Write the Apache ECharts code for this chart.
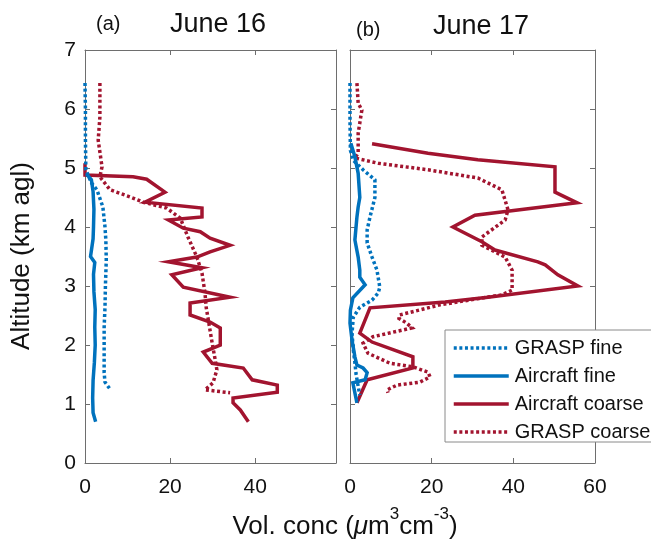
<!DOCTYPE html>
<html>
<head>
<meta charset="utf-8">
<script src="https://cdn.jsdelivr.net/npm/echarts@6/dist/echarts.min.js"></script>
<style>
html,body{margin:0;padding:0;background:#fff;}
#chart{width:651px;height:541px;}
</style>
</head>
<body>
<div id="chart"></div>
<script>
// ---- Data: [volume concentration, altitude km] ----
var seriesNames = ['GRASP fine', 'Aircraft fine', 'Aircraft coarse', 'GRASP coarse'];
var yTicks = [0, 1, 2, 3, 4, 5, 6, 7];
var xTicks = [0, 20, 40, 60];
var panelTitles = ['June 16', 'June 17'];
var panelLetters = ['(a)', '(b)'];

// Panel (a) June 16
var a_graspFine = [[0,6.44],[0.1,6.0],[0.1,5.5],[0.2,4.97],[1.5,4.75],[2.8,4.63],[4.2,4.34],[4.7,4.0],[4.9,3.78],[5.0,3.44],[4.8,3.0],[4.7,2.64],[4.5,2.3],[4.5,2.08],[4.5,1.8],[4.5,1.53],[4.7,1.37],[5.9,1.25]];
var a_aircraftFine = [[0.3,4.9],[1.5,4.8],[1.9,4.6],[2.1,4.3],[2.0,4.0],[1.9,3.8],[1.3,3.5],[2.3,3.4],[2.0,3.2],[2.1,2.9],[2.4,2.6],[2.3,2.3],[2.4,2.0],[2.2,1.7],[1.9,1.4],[1.8,1.1],[1.9,0.85],[2.5,0.7]];
var a_aircraftCoarse = [[0,5.08],[0,4.88],[11.3,4.85],[14.5,4.81],[18.8,4.59],[14.1,4.42],[14.1,4.40],[27.5,4.32],[27.5,4.17],[19.6,4.12],[23.1,3.98],[27.1,3.92],[29.4,3.81],[34.1,3.69],[29.4,3.58],[26.3,3.49],[19.6,3.41],[27.5,3.31],[20.4,3.19],[23.1,2.98],[34.1,2.81],[24.7,2.71],[24.7,2.51],[29.4,2.39],[31.8,2.29],[31.8,2.0],[27.8,1.88],[29.9,1.69],[37.2,1.61],[39.3,1.41],[45.2,1.32],[45.2,1.20],[34.8,1.10],[34.8,1.02],[36.5,0.90],[38.4,0.70]];
var a_graspCoarse = [[3.5,6.44],[3.5,5.86],[3.1,5.47],[4.0,5.02],[3.5,4.85],[5.9,4.63],[10.6,4.51],[13.7,4.42],[19.2,4.32],[22.4,4.15],[24.2,3.83],[26.3,3.49],[27.5,3.22],[28.2,2.88],[28.5,2.63],[29.0,2.42],[29.9,2.03],[30.6,1.75],[31.0,1.58],[30.1,1.36],[28.2,1.24],[34.1,1.19]];

// Panel (b) June 17
var b_graspFine = [[0,6.44],[0,5.8],[0.1,5.3],[0.8,5.13],[3.2,4.97],[6.1,4.8],[6.1,4.5],[4.9,4.17],[4.2,3.95],[4.2,3.73],[5.4,3.49],[6.6,3.27],[7.3,2.98],[6.9,2.88],[5.4,2.76],[2.4,2.64],[0.8,2.47],[0.5,2.2],[0.8,1.92],[1.2,1.7],[1.5,1.5],[2.0,1.3],[2.4,1.15]];
var b_aircraftFine = [[0.2,5.42],[1.2,5.19],[2.0,4.91],[2.4,4.5],[2.0,4.34],[1.7,4.17],[1.2,3.78],[2.0,3.49],[2.4,3.27],[2.4,3.15],[3.7,3.02],[0.7,2.8],[0.1,2.59],[0,2.37],[0.5,2.08],[1.2,1.8],[1.7,1.66],[3.2,1.61],[4.2,1.53],[3.7,1.41],[0.7,1.36],[1.2,1.19],[1.7,1.02]];
var b_aircraftCoarse = [[5.4,5.41],[19.1,5.25],[31.3,5.14],[50.2,5.02],[50.2,4.59],[55.6,4.41],[30.6,4.2],[25.2,4.0],[32.3,3.75],[35.5,3.61],[46,3.41],[47.8,3.36],[50.9,3.19],[55.8,3.0],[33.8,2.81],[23.3,2.73],[4.9,2.63],[2.4,2.2],[5.4,2.05],[15.4,1.8],[15.4,1.61],[4.2,1.41],[1.7,1.02]];
var b_graspCoarse = [[1.7,6.44],[2.0,6.1],[2.9,5.98],[2.0,5.59],[2.0,5.25],[1.2,5.17],[6.9,5.08],[19.1,4.97],[31.3,4.83],[37.2,4.63],[38.7,4.29],[38.0,4.12],[32.3,3.83],[32.3,3.69],[38.0,3.49],[39.7,3.27],[39.7,2.93],[37.2,2.85],[33.5,2.81],[22.0,2.68],[12.2,2.51],[12.0,2.45],[13.9,2.37],[15.2,2.29],[5.6,2.14],[3.2,2.03],[4.4,1.86],[9.8,1.69],[15.4,1.63],[19.1,1.54],[19.6,1.46],[17.1,1.37],[11.5,1.32],[9.1,1.24],[9.3,1.19]];

var BLUE = '#0072BD', RED = '#A2142F';
var FONT = '"Liberation Sans", Arial, sans-serif';
var AXC = '#6e6e6e';
var LW = 3.5;
var DOT = [3, 2.6];

var chart = echarts.init(document.getElementById('chart'), null, {renderer: 'canvas'});

function xAx(grid, max, pos, labels) {
  return {
    type: 'value', gridIndex: grid, position: pos, min: 0, max: max, interval: 20,
    axisLine: {show: true, onZero: false, lineStyle: {color: AXC, width: 1}},
    axisTick: {show: true, inside: true, length: 5, lineStyle: {color: AXC}},
    axisLabel: {show: labels, color: '#111', fontSize: 21, fontFamily: FONT, margin: 14,
      showMaxLabel: max === 60, showMinLabel: true,
      formatter: function (v) { return xTicks.indexOf(v) >= 0 ? String(v) : ''; }},
    splitLine: {show: false}
  };
}
function yAx(grid, pos, labels) {
  return {
    type: 'value', gridIndex: grid, position: pos, min: 0, max: 7, interval: 1,
    axisLine: {show: true, onZero: false, lineStyle: {color: AXC, width: 1}},
    axisTick: {show: true, inside: true, length: 5, lineStyle: {color: AXC}},
    axisLabel: {show: labels, color: '#111', fontSize: 21, fontFamily: FONT, margin: 9,
      formatter: function (v) { return yTicks.indexOf(v) >= 0 ? String(v) : ''; }},
    splitLine: {show: false}
  };
}
function line(name, data, color, dotted, xi, yi) {
  return {
    type: 'line', name: name, data: data, xAxisIndex: xi, yAxisIndex: yi,
    symbol: 'none', showSymbol: false, smooth: false, animation: false,
    lineStyle: {color: color, width: LW, type: dotted ? DOT : 'solid', cap: 'butt', join: 'miter'},
    itemStyle: {color: color},
    emphasis: {disabled: true}
  };
}

var option = {
  backgroundColor: '#fff',
  animation: false,
  grid: [
    {left: 85, top: 50, width: 251, height: 413},
    {left: 350, top: 50, width: 245, height: 413}
  ],
  xAxis: [xAx(0, 59, 'bottom', true), xAx(0, 59, 'top', false), xAx(1, 60, 'bottom', true), xAx(1, 60, 'top', false)],
  yAxis: [yAx(0, 'left', true), yAx(0, 'right', false), yAx(1, 'left', false), yAx(1, 'right', false)],
  legend: {
    data: seriesNames, orient: 'vertical', left: 445, top: 330,
    padding: [8, 5, 0, 7], itemGap: 8, itemWidth: 55, itemHeight: 14,
    backgroundColor: '#fff', borderColor: '#8a8a8a', borderWidth: 1, borderRadius: 0,
    itemStyle: {opacity: 0, borderWidth: 0},
    lineStyle: {width: LW},
    textStyle: {fontSize: 20, fontFamily: FONT, color: '#111', padding: [0, 0, 0, 1]},
    selectedMode: false
  },
  graphic: [
    {type: 'text', left: 96, top: 14, style: {text: panelLetters[0], fontSize: 20, fontFamily: FONT, fill: '#111'}},
    {type: 'text', left: 170, top: 11, style: {text: panelTitles[0], fontSize: 27, fontFamily: FONT, fill: '#111'}},
    {type: 'text', left: 356, top: 20, style: {text: panelLetters[1], fontSize: 20, fontFamily: FONT, fill: '#111'}},
    {type: 'text', left: 433, top: 13, style: {text: panelTitles[1], fontSize: 27, fontFamily: FONT, fill: '#111'}},
    {type: 'text', x: 22, y: 256, rotation: Math.PI / 2,
      style: {text: 'Altitude (km agl)', fontSize: 26, fontFamily: FONT, fill: '#111', align: 'center', verticalAlign: 'middle'}},
    {type: 'text', x: 345, y: 523,
      style: {
        text: '{n|Vol. conc (}{i|μ}{n|m}{s|3}{n|cm}{s|-3}{n|)}',
        align: 'center', verticalAlign: 'middle', fill: '#111',
        rich: {
          n: {fontSize: 26, fontFamily: FONT, fill: '#111', lineHeight: 34, verticalAlign: 'bottom'},
          i: {fontSize: 26, fontFamily: FONT, fontStyle: 'italic', fill: '#111', lineHeight: 34, verticalAlign: 'bottom'},
          s: {fontSize: 17, fontFamily: FONT, fill: '#111', lineHeight: 20, verticalAlign: 'top'}
        }
      }}
  ],
  series: [
    line('Aircraft coarse', a_aircraftCoarse, RED, false, 0, 0),
    line('GRASP coarse', a_graspCoarse, RED, true, 0, 0),
    line('Aircraft fine', a_aircraftFine, BLUE, false, 0, 0),
    line('GRASP fine', a_graspFine, BLUE, true, 0, 0),
    line('Aircraft coarse', b_aircraftCoarse, RED, false, 2, 2),
    line('GRASP coarse', b_graspCoarse, RED, true, 2, 2),
    line('Aircraft fine', b_aircraftFine, BLUE, false, 2, 2),
    line('GRASP fine', b_graspFine, BLUE, true, 2, 2)
  ]
};
chart.setOption(option);
</script>
</body>
</html>
